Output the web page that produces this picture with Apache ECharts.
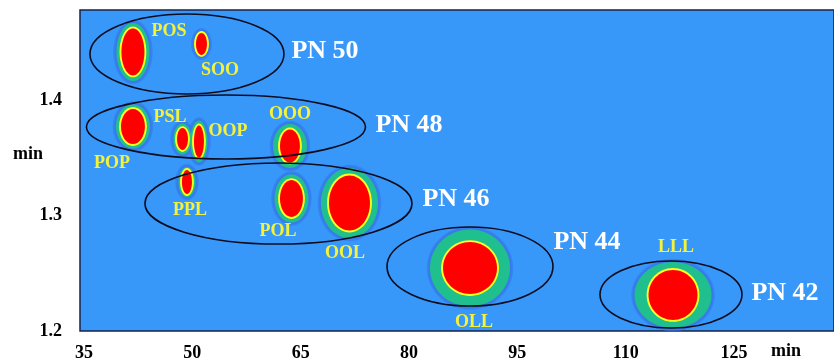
<!DOCTYPE html>
<html>
<head>
<meta charset="utf-8">
<script src="https://cdn.jsdelivr.net/npm/echarts@6/dist/echarts.min.js"></script>
<style>
  html, body { margin: 0; padding: 0; background: #ffffff; }
  #chart { width: 834px; height: 359px; }
</style>
</head>
<body>
<div id="chart"></div>
<script>
// Triacylglycerol species: first-dimension retention (min) vs second-dimension retention (min)
const species = ['POS', 'SOO', 'POP', 'PSL', 'OOP', 'OOO', 'PPL', 'POL', 'OOL', 'OLL', 'LLL'];
const spotX   = [41.78, 51.27, 41.78, 48.64, 50.92, 63.52, 49.26, 63.73, 71.76, 88.45, 116.56];
const spotY   = [1.4416, 1.4485, 1.3771, 1.3662, 1.3641, 1.3602, 1.3290, 1.3147, 1.3108, 1.2545, 1.2312];
// half extent of the most intense (red) zone of each spot
const coreHalfX = [1.59, 0.76, 1.66, 0.76, 0.69, 1.38, 0.69, 1.59, 2.84, 3.74, 3.39];
const coreHalfY = [0.0203, 0.0095, 0.0152, 0.0095, 0.0139, 0.0143, 0.0104, 0.0160, 0.0238, 0.0225, 0.0216];
// half extent of the outer (green) zone of each spot
const bandHalfX = [2.28, 1.00, 2.35, 1.25, 1.18, 2.35, 1.18, 2.35, 3.95, 5.54, 5.33];
const bandHalfY = [0.0251, 0.0110, 0.0190, 0.0134, 0.0182, 0.0190, 0.0130, 0.0208, 0.0303, 0.0333, 0.0286];
// where each species name is written
const nameX = [46.77, 53.83, 38.88, 46.91, 54.94, 63.52, 49.68, 61.86, 71.14, 89.00, 116.97];
const nameY = [1.4597, 1.4260, 1.3455, 1.3853, 1.3732, 1.3879, 1.3048, 1.2866, 1.2675, 1.2078, 1.2727];

// partition-number groups
const groups     = ['PN 50', 'PN 48', 'PN 46', 'PN 44', 'PN 42'];
const groupX     = [49.26, 54.66, 61.93, 88.45, 116.28];
const groupY     = [1.4398, 1.3766, 1.3104, 1.2558, 1.2316];
const groupHalfX = [13.43, 19.32, 18.49, 11.49, 9.83];
const groupHalfY = [0.0346, 0.0277, 0.0351, 0.0342, 0.0290];
const groupTagX  = [68.37, 80.00, 86.51, 104.65, 132.06];
const groupTagY  = [1.4424, 1.3784, 1.3143, 1.2771, 1.2329];

const xTicks = [35, 50, 65, 80, 95, 110, 125];
const yTicks = [1.2, 1.3, 1.4];

const SERIF = '"Liberation Serif", "Times New Roman", serif';

const spotData = species.map((n, i) => [spotX[i], spotY[i], coreHalfX[i], coreHalfY[i], bandHalfX[i], bandHalfY[i]]);
const nameData = species.map((n, i) => [nameX[i], nameY[i]]);
const groupData = groups.map((g, i) => [groupX[i], groupY[i], groupHalfX[i], groupHalfY[i]]);
const tagData = groups.map((g, i) => [groupTagX[i], groupTagY[i]]);

function ell(cx, cy, rx, ry, fill, z2) {
  return { type: 'ellipse', shape: { cx: cx, cy: cy, rx: rx, ry: ry }, style: { fill: fill }, z2: z2 };
}

// concentric intensity zones: soft blue rim, green, yellow edge, red core
function renderSpot(params, api) {
  const c = api.coord([api.value(0), api.value(1)]);
  const core = api.size([api.value(2), api.value(3)]);
  const band = api.size([api.value(4), api.value(5)]);
  return {
    type: 'group',
    children: [
      ell(c[0], c[1], band[0] + 3.2, band[1] + 3.2, 'rgba(50,118,238,0.6)', 1),
      ell(c[0], c[1], band[0] + 1.8, band[1] + 1.8, '#3a7ae8', 2),
      ell(c[0], c[1], band[0], band[1], '#1fc08e', 3),
      ell(c[0], c[1], core[0] + 1.9, core[1] + 1.9, '#ffff1e', 4),
      ell(c[0], c[1], core[0], core[1], '#ff0000', 5)
    ]
  };
}

function renderGroup(params, api) {
  const c = api.coord([api.value(0), api.value(1)]);
  const r = api.size([api.value(2), api.value(3)]);
  return {
    type: 'ellipse',
    shape: { cx: c[0], cy: c[1], rx: r[0], ry: r[1] },
    style: { fill: 'none', stroke: '#0c0c1e', lineWidth: 1.6 }
  };
}

function textRenderer(labels, color, size) {
  return function (params, api) {
    const c = api.coord([api.value(0), api.value(1)]);
    return {
      type: 'text',
      style: {
        text: labels[params.dataIndex], x: c[0], y: c[1],
        fill: color,
        font: 'bold ' + size + 'px ' + SERIF,
        align: 'center', verticalAlign: 'middle',
        textAlign: 'center', textVerticalAlign: 'middle'
      }
    };
  };
}

const chart = echarts.init(document.getElementById('chart'), null, { renderer: 'canvas' });

chart.setOption({
  animation: false,
  backgroundColor: '#ffffff',
  grid: {
    left: 80, right: 0, top: 10, bottom: 28,
    show: true,
    backgroundColor: '#3898fa',
    borderColor: '#18224a',
    borderWidth: 1.5,
    outerBoundsMode: 'none'
  },
  xAxis: {
    type: 'value',
    min: 34.45, max: 138.85,
    axisLine: { show: false },
    axisTick: { show: false },
    splitLine: { show: false },
    axisLabel: {
      customValues: xTicks,
      margin: 13,
      color: '#000000',
      fontFamily: SERIF, fontWeight: 'bold', fontSize: 18,
      formatter: v => String(Math.round(v))
    }
  },
  yAxis: {
    type: 'value',
    min: 1.2, max: 1.4779,
    axisLine: { show: false },
    axisTick: { show: false },
    splitLine: { show: false },
    axisLabel: {
      customValues: yTicks,
      margin: 18,
      color: '#000000',
      fontFamily: SERIF, fontWeight: 'bold', fontSize: 18,
      formatter: v => v.toFixed(1)
    }
  },
  graphic: [
    { type: 'text', left: 771, top: 342, style: { text: 'min', fill: '#000', font: 'bold 18px ' + SERIF } },
    { type: 'text', left: 13, top: 145, style: { text: 'min', fill: '#000', font: 'bold 18px ' + SERIF } }
  ],
  series: [
    { type: 'custom', name: 'spots', renderItem: renderSpot, data: spotData, z: 2, silent: true },
    { type: 'custom', name: 'groups', renderItem: renderGroup, data: groupData, z: 3, silent: true },
    { type: 'custom', name: 'species', renderItem: textRenderer(species, '#f4f23a', 18), data: nameData, z: 4, silent: true },
    { type: 'custom', name: 'partition', renderItem: textRenderer(groups, '#ffffff', 26), data: tagData, z: 4, silent: true }
  ]
});
</script>
</body>
</html>
